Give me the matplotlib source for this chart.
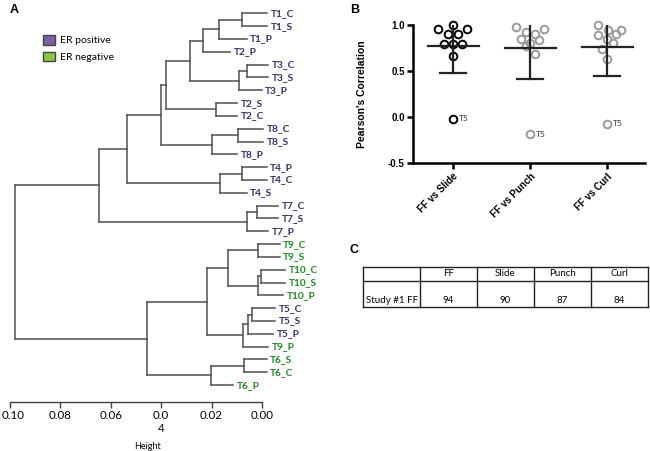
import matplotlib
matplotlib.use('Agg')
import matplotlib.pyplot as plt
import matplotlib.transforms as mtransforms
from matplotlib.patches import Patch
import numpy as np

# ---- panel A: dendrogram data ----
leaves = ['T1_C', 'T1_S', 'T1_P', 'T2_P', 'T3_C', 'T3_S', 'T3_P', 'T2_S', 'T2_C',
          'T8_C', 'T8_S', 'T8_P', 'T4_P', 'T4_C', 'T4_S', 'T7_C', 'T7_S', 'T7_P',
          'T9_C', 'T9_S', 'T10_C', 'T10_S', 'T10_P', 'T5_C', 'T5_S', 'T5_P', 'T9_P',
          'T6_S', 'T6_C', 'T6_P']
leaf_end = [-0.0021, -0.0021, 0.0061, 0.0127, -0.0025, -0.0025, 0.0001, 0.0098, 0.0098,
            -0.0005, -0.0005, 0.0098, -0.0019, -0.0019, 0.0061, -0.0065, -0.0065, -0.0025,
            -0.0071, -0.0071, -0.0091, -0.0091, -0.0085, -0.0052, -0.0052, -0.0045, -0.0025,
            -0.0019, -0.0019, 0.0114]
er_negative = ['T6', 'T9', 'T10']
# merges: (child a, child b, height); new nodes numbered from len(leaves)
merges = [(0, 1, 0.0078), (30, 2, 0.0169), (31, 3, 0.0236), (4, 5, 0.0061), (33, 6, 0.0090),
          (32, 34, 0.0286), (7, 8, 0.0184), (35, 36, 0.0382), (9, 10, 0.0094), (38, 11, 0.0200),
          (37, 39, 0.0401), (12, 13, 0.0081), (41, 14, 0.0167), (40, 42, 0.0537), (15, 16, 0.0019),
          (44, 17, 0.0061), (43, 45, 0.0647), (18, 19, 0.0015), (20, 21, 0.0005), (48, 22, 0.0015),
          (47, 49, 0.0134), (23, 24, 0.0041), (51, 25, 0.0054), (52, 26, 0.0074), (50, 53, 0.0219),
          (27, 28, 0.0070), (55, 29, 0.0202), (54, 56, 0.0458), (46, 57, 0.0980)]
height_ticks = [0.10, 0.08, 0.06, 0.04, 0.02, 0.00]
height_labels = ['0.10', '0.08', '0.06', '0.0\n4', '0.02', '0.00']

# ---- panel B: Pearson's correlation ----
comparisons = ['FF vs Slide', 'FF vs Punch', 'FF vs Curl']
r_slide = [0.953, 1.00, 0.953, 0.906, 0.906, 0.789, 0.789, 0.789, 0.662, -0.02]
r_punch = [0.982, 0.927, 0.906, 0.960, 0.851, 0.837, 0.808, 0.771, 0.688, -0.19]
r_curl = [1.00, 0.942, 0.946, 0.891, 0.906, 0.844, 0.800, 0.735, 0.633, -0.075]
dx_slide = [-0.19, 0, 0.18, -0.06, 0.07, -0.12, 0, 0.12, 0, 0]
dx_punch = [-0.18, -0.06, 0.06, 0.18, -0.12, 0.12, 0, -0.06, 0.06, 0]
dx_curl = [-0.12, 0.01, 0.18, -0.12, 0.12, 0, 0.07, -0.07, 0, 0]

# ---- panel C: table ----
col_labels = ['', 'FF', 'Slide', 'Punch', 'Curl']
row_values = ['Study #1 FF', '94', '90', '87', '84']

purple = '#3d2b6e'
green = '#1f8a1f'
W, H = 650, 451
fig = plt.figure(figsize=(6.5, 4.51), dpi=100)

# ================= A =================
axA = fig.add_axes([10 / W, 1 - 402 / H, 335 / W, 402 / H])
n = len(leaves)
ypos = {i: float(i) for i in range(n)}
xpos = {i: leaf_end[i] for i in range(n)}
lc = '#505050'
for k, (a, b, h) in enumerate(merges):
    node = n + k
    axA.plot([h, h], [ypos[a], ypos[b]], color=lc, lw=1.1)
    for c in (a, b):
        axA.plot([h, xpos[c]], [ypos[c], ypos[c]], color=lc, lw=1.1)
    ypos[node] = (ypos[a] + ypos[b]) / 2
    xpos[node] = h
for i, name in enumerate(leaves):
    col = green if name.split('_')[0] in er_negative else purple
    axA.annotate(name, (leaf_end[i], i), xytext=(2.5, 0), textcoords='offset points',
                 va='center', ha='left', fontsize=7.3, fontweight='bold', color=col,
                 family='Lato')
axA.set_xlim(0.10, (262 - 345) / 2520)
axA.set_ylim(30.32, -1.04)
for s in ['top', 'right', 'left']:
    axA.spines[s].set_visible(False)
axA.spines['bottom'].set_bounds(0.0, 0.10)
axA.spines['bottom'].set_color('#404040')
axA.spines['bottom'].set_linewidth(1.0)
axA.set_yticks([])
axA.set_xticks(height_ticks)
axA.set_xticklabels(height_labels, family='Lato', fontsize=8.3)
axA.tick_params(axis='x', length=4, width=1.0, color='#404040', pad=2)
# first label sits at the very edge of the figure; nudge it inside
first = axA.get_xticklabels()[0]
first.set_transform(first.get_transform() +
                    mtransforms.ScaledTranslation(2.5 / 72, 0, fig.dpi_scale_trans))
axA.set_xlabel('Height', family='Lato', fontsize=6.5)
axA.xaxis.set_label_coords((148 - 10) / 335, -(442 - 402) / 402)
axA.legend(handles=[Patch(facecolor='#7e5fa8', edgecolor='#444444', label='ER positive'),
                    Patch(facecolor='#8cc640', edgecolor='#444444', label='ER negative')],
           loc='upper left', bbox_to_anchor=(38 / W, 1 - 30 / H), bbox_transform=fig.transFigure,
           frameon=False, prop={'family': 'Lato', 'size': 7.5}, handlelength=1.1,
           handleheight=1.0, handletextpad=0.5, labelspacing=0.6, borderpad=0)
fig.text(10 / W, 1 - 10 / H, 'A', fontsize=9, fontweight='bold', family='Liberation Sans',
         va='center', ha='left')

# ================= B =================
axB = fig.add_axes([413 / W, 1 - 163 / H, 232 / W, 138 / H])
groups = [(r_slide, dx_slide, 'black'), (r_punch, dx_punch, '#9a9a9a'), (r_curl, dx_curl, '#9a9a9a')]
for g, (vals, dx, col) in enumerate(groups):
    x0 = g + 1
    vals = np.array(vals)
    axB.plot(x0 + np.array(dx), vals, 'o', mfc='none', mec=col, mew=1.4, ms=5.5, clip_on=False)
    m = vals.mean()
    sd = vals.std(ddof=1)
    axB.plot([x0 - 0.33, x0 + 0.33], [m, m], color='#222222', lw=1.6)
    axB.plot([x0, x0], [m - sd, m + sd], color='#222222', lw=1.6)
    axB.plot([x0 - 0.17, x0 + 0.17], [m - sd, m - sd], color='#222222', lw=1.6)
    axB.annotate('T5', (x0 + dx[-1], vals[-1]), xytext=(4, 0), textcoords='offset points',
                 va='center', ha='left', fontsize=6, color='#333333', family='Lato')
axB.set_xlim(0.48, 3.49)
axB.set_ylim(-0.5, 1.0)
axB.set_yticks([-0.5, 0.0, 0.5, 1.0])
axB.set_yticklabels(['-0.5', '0.0', '0.5', '1.0'], fontsize=7, fontweight='bold',
                    family='Liberation Sans')
axB.set_xticks([1, 2, 3])
axB.set_xticklabels(comparisons, rotation=45, ha='right', rotation_mode='anchor',
                    fontsize=7, fontweight='bold', family='Liberation Sans')
axB.spines['top'].set_visible(False)
axB.spines['right'].set_visible(False)
for s in ['left', 'bottom']:
    axB.spines[s].set_linewidth(1.8)
axB.tick_params(length=4, width=1.8, pad=2)
axB.set_ylabel("Pearson's Correlation", fontsize=7.5, fontweight='bold', family='Liberation Sans')
axB.yaxis.set_label_coords(-(413 - 367) / 232, 0.5)
fig.text(350 / W, 1 - 10 / H, 'B', fontsize=9, fontweight='bold', family='Liberation Sans',
         va='center', ha='left')

# ================= C =================
axC = fig.add_axes([362.7 / W, 1 - 306.7 / H, (648.3 - 362.7) / W, 40 / H])
axC.set_xlim(0, 5)
axC.set_ylim(0, 40)
axC.axis('off')
for xv in range(6):
    axC.plot([xv, xv], [0, 40], color='#222222', lw=1.0, clip_on=False)
for yv in [0, 26, 40]:
    axC.plot([0, 5], [yv, yv], color='#222222', lw=1.0, clip_on=False)
for j in range(5):
    axC.text(j + 0.5, 33, col_labels[j], ha='center', va='center', fontsize=7, family='Lato')
axC.text(0.05, 2, row_values[0], ha='left', va='bottom', fontsize=7, family='Lato')
for j in range(1, 5):
    axC.text(j + 0.5, 2, row_values[j], ha='center', va='bottom', fontsize=7, family='Lato')
fig.text(350 / W, 1 - 250 / H, 'C', fontsize=9, fontweight='bold', family='Liberation Sans',
         va='center', ha='left')

fig.savefig('out.png', dpi=100)
